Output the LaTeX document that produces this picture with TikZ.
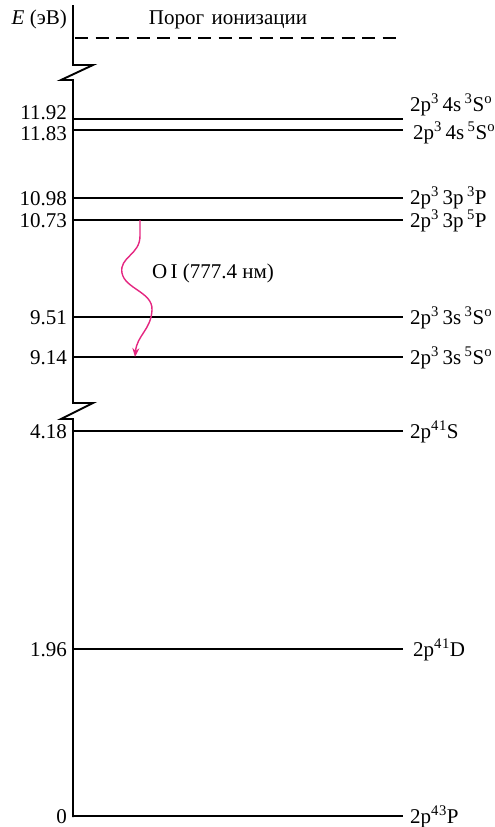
\documentclass[tikz,border=0pt]{standalone}
\usepackage{fontspec}
\setmainfont{Liberation Serif}
\usetikzlibrary{arrows.meta}
\definecolor{wavecol}{RGB}{228,38,128}
\newcommand{\su}[1]{\textsuperscript{#1}}
\tikzset{
  level/.style={line width=2.8pt},
  axisline/.style={line width=1.9pt},
  lbl/.style={font=\fontsize{21}{21}\selectfont, inner sep=0pt},
  num/.style={lbl, anchor=east},
  term/.style={lbl, anchor=west},
}
\begin{document}
\begin{tikzpicture}[x=1pt,y=-1pt]
\useasboundingbox (0,0) rectangle (495,827);
% axis with breaks
\draw[axisline] (73,5) -- (73,65) -- (93,65) -- (61,80) -- (73,80) -- (73,403) -- (93,403) -- (61,419) -- (73,419) -- (73,817);
% ionization threshold
\coordinate (ionL) at (75,38);
\coordinate (ionR) at (403,38);
\draw[level, dash pattern=on 13pt off 7.5pt] (ionL) -- (ionR);
\node[lbl] (ion) at (228,20) {Порог\hspace{0.35em}ионизации};
\node[lbl, anchor=east] (E) at (67,19) {\textit{E} (эВ)};
% levels
\foreach \y/\name in {119/a,130/b,198/c,220/d,317/e,357/f,431/g,649/h,816/i}{
  \coordinate (\name L) at (73,\y);
  \coordinate (\name R) at (403,\y);
  \draw[level] (\name L) -- (\name R);
}
% energies
\node[num] (na) at (67,113) {11.92};
\node[num] (nb) at (67,134) {11.83};
\node[num] (nc) at (67,199) {10.98};
\node[num] (nd) at (67,221) {10.73};
\node[num] (ne) at (67,318) {9.51};
\node[num] (nf) at (67,358) {9.14};
\node[num] (ng) at (67,432) {4.18};
\node[num] (nh) at (67,650) {1.96};
\node[num] (ni) at (67,817) {0};
% terms
\node[term] (ta) at (410,105) {2p\su{3}\,4s\,\su{3}S\su{o}};
\node[term] (tb) at (413,133) {2p\su{3}\,4s\,\su{5}S\su{o}};
\node[term] (tc) at (410,198) {2p\su{3}\,3p\,\su{3}P};
\node[term] (td) at (410,221) {2p\su{3}\,3p\,\su{5}P};
\node[term] (te) at (410,318) {2p\su{3}\,3s\,\su{3}S\su{o}};
\node[term] (tf) at (410,358) {2p\su{3}\,3s\,\su{5}S\su{o}};
\node[term] (tg) at (410,432) {2p\su{4}\su{1}S};
\node[term] (th) at (413,650) {2p\su{4}\su{1}D};
\node[term] (ti) at (410,817) {2p\su{4}\su{3}P};
% transition
\coordinate (wtop) at (140,220);
\coordinate (wbot) at (135,357);
\draw[wavecol, line width=1.4pt, -{Stealth[length=9pt,width=7pt]}]
  (wtop) -- (140,236) .. controls (140,255) and (119,257) .. (122,273)
  .. controls (125,289) and (153,292) .. (152,310)
  .. controls (151,330) and (137,335) .. (wbot);
\node[lbl] (wl) at (213,273) {O\,I (777.4 нм)};
\end{tikzpicture}
\end{document}
